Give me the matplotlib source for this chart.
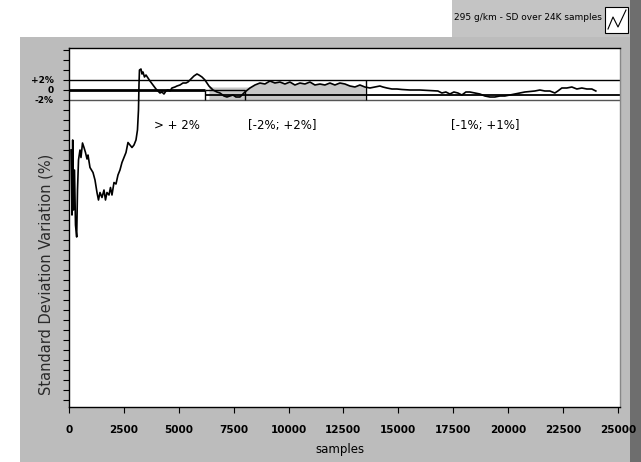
import numpy as np
import matplotlib
matplotlib.use('Agg')
import matplotlib.pyplot as plt
from matplotlib.patches import Rectangle
from matplotlib.lines import Line2D

W, H = 641, 462

# SD variation (%) against number of samples
samples = [91, 137, 168, 205, 250, 296, 350, 387, 433, 500, 546, 615, 683, 751,
           820, 865, 956, 1093, 1184, 1275, 1343, 1412, 1503, 1594, 1662, 1730,
           1822, 1890, 1958, 2049, 2140, 2231, 2322, 2413, 2505, 2596, 2687,
           2778, 2869, 2960, 3051, 3119, 3165, 3188, 3210, 3279, 3324, 3370,
           3438, 3507, 3598, 3689, 3825, 3962, 4053, 4144, 4235, 4326, 4417,
           4508, 4599, 4690, 4827, 4918, 5055, 5192, 5328, 5419, 5556, 5692,
           5829, 5920, 6057, 6193, 6375, 6558, 6740, 6877, 7059, 7195, 7332,
           7469, 7605, 7787, 7924, 8015, 8243, 8471, 8698, 8926, 9154, 9381,
           9609, 9837, 10064, 10292, 10520, 10748, 10975, 11203, 11431, 11658,
           11886, 12114, 12341, 12569, 12797, 13025, 13252, 13480, 13708,
           13936, 14163, 14300, 14482, 14710, 14937, 15165, 15529, 15985,
           16440, 16804, 16986, 17168, 17351, 17533, 17715, 17897, 18079,
           18261, 18489, 18717, 18944, 19172, 19400, 19627, 19855, 20083,
           20310, 20538, 20766, 20994, 21221, 21449, 21677, 21904, 22132,
           22269, 22451, 22678, 22906, 23134, 23361, 23589, 23817, 23999]
variation = [-12, -25, -10, -24, -16, -27, -29.4, -20, -14, -12, -13.5, -10.6,
             -11.5, -12.5, -13.8, -13, -15.5, -16.5, -18, -20.5, -22, -20.5,
             -21.5, -20, -22, -20.5, -21, -19.5, -21, -18.5, -18.8, -17, -16,
             -14.5, -13.5, -12.5, -10.5, -11, -11.5, -11, -10, -8, -4, 1, 4,
             4.2, 3.2, 3.6, 2.6, 3, 2.4, 1.8, 1, 0.2, -0.2, -0.6, -0.4, -0.8,
             -0.2, 0, -0.2, 0.4, 0.6, 0.8, 1, 1.4, 1.4, 1.6, 2.2, 2.8, 3.2, 3,
             2.6, 2, 0.8, 0, -0.4, -0.6, -1.2, -1.4, -1.2, -1, -1.4, -1.4, -0.8,
             -0.4, 0.4, 1, 1.4, 1.2, 1.8, 1.4, 1.6, 1.2, 1.6, 1, 1.4, 1.2, 1.6,
             1, 1.2, 1, 1.4, 1, 1.4, 1.2, 0.8, 0.6, 1, 0.6, 0.4, 0.6, 0.8, 0.6,
             0.4, 0.2, 0.2, 0.1, 0, 0, -0.1, -0.2, -0.6, -0.4, -0.8, -0.4, -0.6,
             -1, -0.4, -0.4, -0.6, -0.8, -1.2, -1.4, -1.4, -1.2, -1.2, -1,
             -0.8, -0.6, -0.4, -0.3, -0.2, 0, -0.2, -0.2, -0.6, -0.2, 0.4, 0.4,
             0.6, 0.2, 0.4, 0.2, 0.2, -0.2]

x_ticks = [0, 2500, 5000, 7500, 10000, 12500, 15000, 17500, 20000, 22500, 25000]
y_label_ticks = [2, 0, -2]
y_tick_labels = ['+2%', '0', '-2%']

# regions of the convergence band
band_edges = [6200, 8000, 13550]
band_labels = ['> + 2%', '[-2%; +2%]', '[-1%; +1%]']
band_label_x = [4900, 9700, 18950]

legend_text = '295 g/km - SD over 24K samples'


def fx(px):
    return px / W


def fy(py):
    return 1 - py / H


fig = plt.figure(figsize=(W / 100, H / 100), dpi=100, facecolor='white')

# grey window panels
fig.add_artist(Rectangle((fx(20), 0), fx(612), fy(37), facecolor='#bcbcbc',
                         edgecolor='none', transform=fig.transFigure, zorder=0))
fig.add_artist(Rectangle((fx(452), fy(37)), fx(180), 37 / H, facecolor='#c4c4c4',
                         edgecolor='none', transform=fig.transFigure, zorder=0))
fig.add_artist(Rectangle((fx(630), 0), fx(11), 1, facecolor='#6e6e6e',
                         edgecolor='none', transform=fig.transFigure, zorder=0))

# legend
fig.text(fx(528), fy(17), legend_text, ha='center', va='center', fontsize=6.5)
fig.add_artist(Rectangle((fx(605), fy(33)), fx(23), 26 / H, facecolor='white',
                         edgecolor='black', lw=0.8, transform=fig.transFigure))
fig.add_artist(Line2D([fx(608), fx(613), fx(618), fx(626)],
                      [fy(29), fy(17), fy(27), fy(10)], color='black', lw=0.8,
                      transform=fig.transFigure))

ax = fig.add_axes([fx(69), fy(407), fx(551), 359 / H])
ax.set_facecolor('white')
ax.set_xlim(0, 25100)
ax.set_ylim(-63.4, 8.4)

s = np.array(samples)
v = np.array(variation)

# band guide lines
ax.hlines(2, 0, 25100, color='black', lw=1.0)
ax.hlines(-2, 0, 25100, color='#555555', lw=1.0)
ax.hlines(0, 0, band_edges[0], color='black', lw=2.0)
ax.hlines(0, band_edges[0], band_edges[1], color='black', lw=1.0)
ax.hlines(-1, band_edges[0], 25100, color='black', lw=1.3)

# shaded [-2%; +2%] region
inside = (s >= band_edges[0]) & (s <= band_edges[2])
ax.fill_between(s[inside], -2, np.maximum(v[inside], 0.6), color='#c8c8c8', lw=0)
ax.vlines(band_edges[0], -2, 0, color='black', lw=1.0)
ax.vlines(band_edges[1], -2, 0, color='black', lw=1.0)
ax.vlines(band_edges[2], -2, 2, color='black', lw=1.0)

ax.plot(s, v, color='black', lw=1.2)

for lx, lab in zip(band_label_x, band_labels):
    ax.text(lx, -7.2, lab, ha='center', va='center', fontsize=8.5)

ax.set_xticks(x_ticks)
ax.set_xticklabels([str(t) for t in x_ticks], fontsize=7.5, fontweight='bold')
y_ticks = list(range(-62, 9, 2))
ax.set_yticks(y_ticks)
ax.set_yticklabels([y_tick_labels[y_label_ticks.index(t)] if t in y_label_ticks else ''
                    for t in y_ticks], fontsize=6.5, fontweight='bold')
ax.tick_params(axis='both', direction='out', length=4, width=0.8)
ax.tick_params(axis='x', pad=9)
ax.tick_params(axis='y', pad=7)

for side in ax.spines.values():
    side.set_linewidth(1.0)
ax.spines['right'].set_color('#888888')

fig.text(fx(340), fy(450), 'samples', ha='center', va='center', fontsize=8.5)
fig.text(fx(46), fy(274), 'Standard Deviation Variation (%)', rotation=90,
         ha='center', va='center', fontsize=10.5, color='#2a2a2a')

fig.savefig('out.png', dpi=100, facecolor=fig.get_facecolor())
